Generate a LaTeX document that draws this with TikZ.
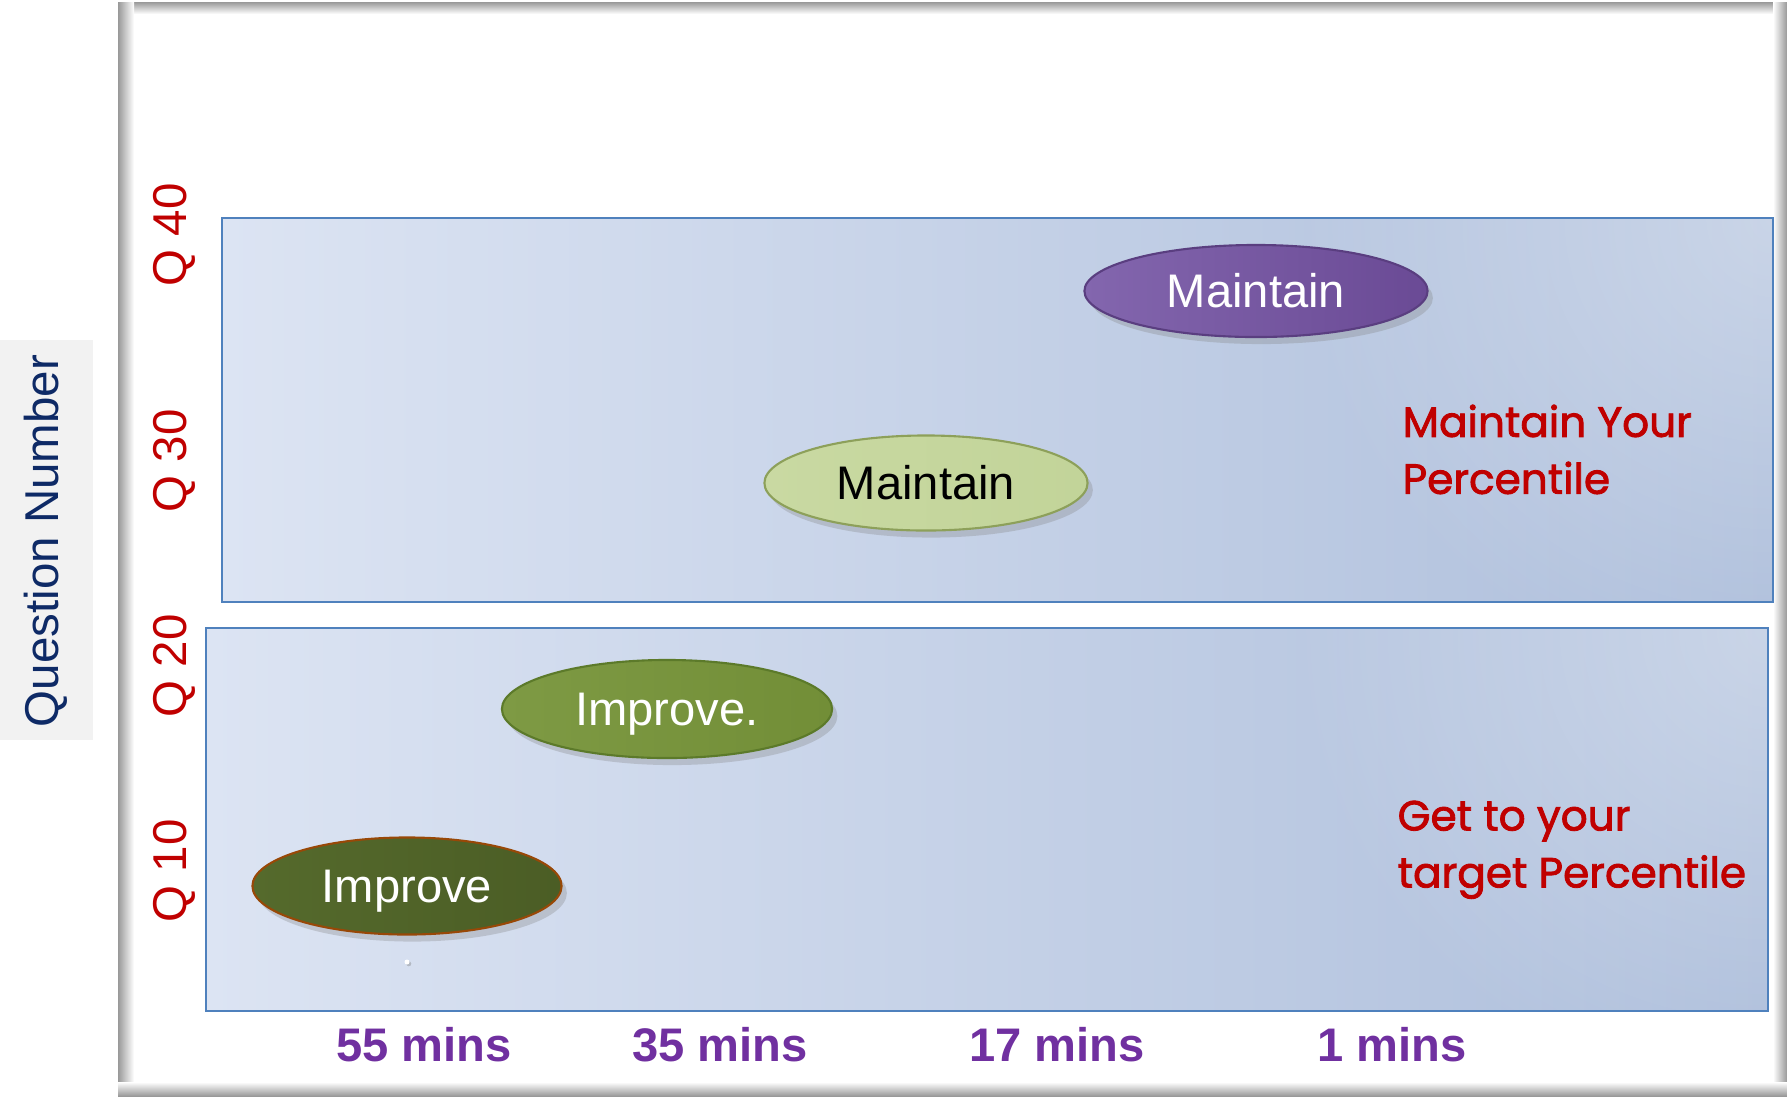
\documentclass[tikz,border=0pt]{standalone}
\usepackage{fontspec}
\setmainfont{Liberation Sans}
\newfontfamily\roundfont{Poppins}[FakeBold=2]
\usetikzlibrary{shapes.geometric,shadows,fadings}
\definecolor{slideblue}{HTML}{4F81BD}
\definecolor{paleblue}{HTML}{DCE4F3}
\definecolor{deepblue}{HTML}{ADBEDB}
\definecolor{qred}{HTML}{C00000}
\definecolor{minpurple}{HTML}{7030A0}
\definecolor{axisnavy}{HTML}{0E2A66}
\definecolor{plumA}{HTML}{8366AE}
\definecolor{plumB}{HTML}{6A4A95}
\definecolor{plumE}{HTML}{5A3E80}
\definecolor{sageA}{HTML}{C9D9A2}
\definecolor{sageB}{HTML}{C2D499}
\definecolor{sageE}{HTML}{8DA05A}
\definecolor{oliveA}{HTML}{7E9A44}
\definecolor{oliveB}{HTML}{728E37}
\definecolor{oliveE}{HTML}{5C7A2A}
\definecolor{mossA}{HTML}{556A2C}
\definecolor{mossB}{HTML}{4B5D25}
\definecolor{mossE}{HTML}{984807}
\tikzfading[name=glow, inner color=transparent!0, outer color=transparent!100]

\begin{document}
\begin{tikzpicture}[x=0.01cm,y=-0.01cm]
  \tikzstyle{bubble}=[ellipse,draw,line width=0.6pt,inner sep=0pt,text height=9.6pt,text depth=0pt,font=\fontsize{13.4}{16}\selectfont,drop shadow={shadow xshift=1.5pt,shadow yshift=-2pt,opacity=0.3}]
  \tikzstyle{qlabel}=[rotate=90,text=qred,font=\fontsize{13.5}{16}\selectfont]
  \tikzstyle{tlabel}=[text=minpurple,font=\bfseries\fontsize{13.4}{16}\selectfont]
  \tikzstyle{note}=[text=qred,align=left,anchor=north west,inner sep=0pt,font=\roundfont\fontsize{12}{16.2}\selectfont]
  \tikzstyle{band}=[draw=slideblue,line width=0.7pt]

  \useasboundingbox (0,0) rectangle (1787,1096);
  \fill[white] (0,0) rectangle (1787,1096);
  \fill[gray!10] (0,340) rectangle (93,740);
  \node[rotate=90,text=axisnavy,font=\fontsize{13.5}{16}\selectfont] (yaxis) at (46,541) {Question Number};

  % slide edges
  \shade[top color=gray!80,bottom color=white] (118,2) rectangle (1787,14);
  \shade[left color=gray!80,right color=white] (118,2) rectangle (134,1096);
  \shade[left color=white,right color=gray!80] (1773,2) rectangle (1787,1096);
  \shade[top color=white,bottom color=gray!80] (118,1082) rectangle (1787,1096);

  \shade[left color=paleblue,right color=deepblue] (222,218) rectangle (1773,602);
  \begin{scope}
    \clip (222,218) rectangle (1773,602);
    \fill[white,opacity=0.35,path fading=glow] (1773,218) circle (480);
  \end{scope}
  \draw[band] (222,218) rectangle (1773,602);

  \shade[left color=paleblue,right color=deepblue] (206,628) rectangle (1768,1011);
  \begin{scope}
    \clip (206,628) rectangle (1768,1011);
    \fill[white,opacity=0.35,path fading=glow] (1768,628) circle (480);
  \end{scope}
  \draw[band] (206,628) rectangle (1768,1011);

  \node[qlabel] (q40) at (174,235) {Q 40};
  \node[qlabel] (q30) at (174,461) {Q 30};
  \node[qlabel] (q20) at (174,666) {Q 20};
  \node[qlabel] (q10) at (174,871) {Q 10};

  \node[bubble,draw=plumE,left color=plumA,right color=plumB,text=white,minimum width=3.43cm,minimum height=0.92cm] (top) at (1256,291) {Maintain};
  \node[bubble,draw=sageE,left color=sageA,right color=sageB,text=black,minimum width=3.23cm,minimum height=0.95cm] (mid) at (926,483) {Maintain};
  \node[bubble,draw=oliveE,left color=oliveA,right color=oliveB,text=white,minimum width=3.30cm,minimum height=0.98cm] (rise) at (667,709) {Improve.};
  \node[bubble,draw=mossE,left color=mossA,right color=mossB,text=white,minimum width=3.09cm,minimum height=0.97cm] (low) at (407,886) {Improve};
  \node[circle,fill=white,inner sep=0pt,minimum size=0.05cm,drop shadow={shadow xshift=0.5pt,shadow yshift=-0.5pt,opacity=0.4}] (speck) at (407,962) {};

  \node[note] (keep) at (1402,404) {Maintain Your\\Percentile};
  \node[note] (reach) at (1397,800) {Get to your\\target Percentile};

  \node[tlabel] (t55) at (424,1045) {55 mins};
  \node[tlabel] (t35) at (720,1045) {35 mins};
  \node[tlabel] (t17) at (1057,1045) {17 mins};
  \node[tlabel] (t1) at (1392,1045) {1 mins};
\end{tikzpicture}
\end{document}
